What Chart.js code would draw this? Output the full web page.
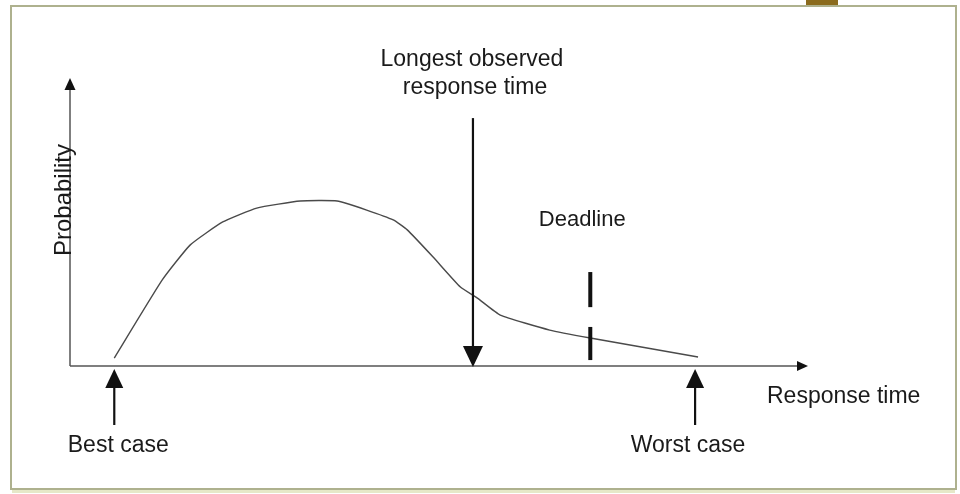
<!DOCTYPE html>
<html>
<head>
<meta charset="utf-8">
<script src="https://cdn.jsdelivr.net/npm/chart.js@4/dist/chart.umd.min.js"></script>
<style>
  html, body { margin: 0; padding: 0; background: #ffffff; }
  #wrap { width: 960px; height: 494px; position: relative; }
</style>
</head>
<body>
<div id="wrap"><canvas id="c" width="960" height="494"></canvas></div>
<script>
// ---- data (arbitrary units) ----
const responseTime = [6.0, 12.5, 16.3, 20.7, 25.3, 31.2, 36.2, 40.2, 43.8, 45.7, 49.2, 52.9, 55.2, 58.3, 65.0, 70.5, 85.1];
const probability  = [2.8, 30.4, 42.8, 50.9, 55.8, 58.3, 58.3, 55.1, 51.6, 48.1, 38.5, 27.9, 24.0, 18.0, 12.7, 9.9, 3.2];

const bestCase = 6.0;
const worstCase = 84.7;
const longestObserved = 54.6;
const longestArrowTop = 87.6;
const deadline = 70.5;
const deadlineSegments = [[33.2, 20.8], [13.8, 2.1]];

const xAxisTitle = "Response time";
const yAxisTitle = "Probability";
const labelBest = "Best case";
const labelWorst = "Worst case";
const labelLongest = ["Longest observed", "response time"];
const labelDeadline = "Deadline";

const FAMILY = '"Liberation Sans", Arial, sans-serif';
const TEXT = '#1a1a1a';

function arrowHead(ctx, tipX, tipY, dir, len, half) {
  ctx.beginPath();
  if (dir === 'up') {
    ctx.moveTo(tipX, tipY); ctx.lineTo(tipX - half, tipY + len); ctx.lineTo(tipX + half, tipY + len);
  } else if (dir === 'down') {
    ctx.moveTo(tipX, tipY); ctx.lineTo(tipX - half, tipY - len); ctx.lineTo(tipX + half, tipY - len);
  } else {
    ctx.moveTo(tipX, tipY); ctx.lineTo(tipX - len, tipY - half); ctx.lineTo(tipX - len, tipY + half);
  }
  ctx.closePath();
  ctx.fill();
}

const diagram = {
  id: 'diagram',
  beforeDatasetsDraw(chart) {
    const ctx = chart.ctx;
    const xs = chart.scales.x, ys = chart.scales.y;
    const ca = chart.chartArea;
    ctx.save();
    // frame
    ctx.fillStyle = '#8b6b1e';
    ctx.fillRect(806, 0, 32, 6);
    ctx.strokeStyle = '#aeb18e';
    ctx.lineWidth = 2;
    ctx.strokeRect(11, 6, 945, 483);
    ctx.strokeStyle = '#e6e8c8';
    ctx.lineWidth = 3;
    ctx.beginPath(); ctx.moveTo(12, 491.5); ctx.lineTo(955, 491.5); ctx.stroke();

    // axes
    const x0 = xs.getPixelForValue(0), y0 = ys.getPixelForValue(0);
    ctx.strokeStyle = '#555';
    ctx.fillStyle = '#111';
    ctx.lineWidth = 1.5;
    ctx.beginPath();
    ctx.moveTo(x0, y0); ctx.lineTo(x0, ca.top - 2);
    ctx.moveTo(x0, y0); ctx.lineTo(ca.right - 8, y0);
    ctx.stroke();
    arrowHead(ctx, x0, ca.top - 5, 'up', 12, 5.5);
    arrowHead(ctx, ca.right, y0, 'right', 11, 5);
    ctx.restore();
  },
  afterDatasetsDraw(chart) {
    const ctx = chart.ctx;
    const xs = chart.scales.x, ys = chart.scales.y;
    const y0 = ys.getPixelForValue(0);
    ctx.save();
    ctx.strokeStyle = '#111';
    ctx.fillStyle = '#111';

    // longest observed response time arrow
    const lx = xs.getPixelForValue(longestObserved);
    ctx.lineWidth = 2.2;
    ctx.beginPath();
    ctx.moveTo(lx, ys.getPixelForValue(longestArrowTop));
    ctx.lineTo(lx, y0 - 15);
    ctx.stroke();
    arrowHead(ctx, lx, y0 + 1, 'down', 21, 10);

    // best / worst case arrows
    [bestCase, worstCase].forEach(v => {
      const px = xs.getPixelForValue(v);
      ctx.lineWidth = 2.2;
      ctx.beginPath();
      ctx.moveTo(px, y0 + 15); ctx.lineTo(px, y0 + 59);
      ctx.stroke();
      arrowHead(ctx, px, y0 + 3, 'up', 19, 9);
    });

    // deadline marker
    const dx = xs.getPixelForValue(deadline);
    ctx.lineWidth = 4;
    ctx.lineCap = 'butt';
    deadlineSegments.forEach(s => {
      ctx.beginPath();
      ctx.moveTo(dx, ys.getPixelForValue(s[0]));
      ctx.lineTo(dx, ys.getPixelForValue(s[1]));
      ctx.stroke();
    });

    // texts
    ctx.fillStyle = TEXT;
    ctx.textAlign = 'center';
    ctx.textBaseline = 'alphabetic';
    ctx.font = '23px ' + FAMILY;
    ctx.fillText(labelLongest[0], lx - 1, 66);
    ctx.fillText(labelLongest[1], lx + 2, 94);
    ctx.font = '22px ' + FAMILY;
    ctx.fillText(labelDeadline, dx - 8, 226);
    ctx.font = '23px ' + FAMILY;
    ctx.fillText(labelBest, xs.getPixelForValue(bestCase) + 4, 452);
    ctx.fillText(labelWorst, xs.getPixelForValue(worstCase) - 7, 452);
    ctx.textAlign = 'left';
    ctx.fillText(xAxisTitle, 767, 403);

    // y axis title (rotated)
    ctx.save();
    ctx.translate(xs.getPixelForValue(0) + 1, 200);
    ctx.rotate(-Math.PI / 2);
    ctx.textAlign = 'center';
    ctx.font = '24px ' + FAMILY;
    ctx.fillText(yAxisTitle, 0, 0);
    ctx.restore();

    ctx.restore();
  }
};

const points = responseTime.map((x, i) => ({ x: x, y: probability[i] }));

new Chart(document.getElementById('c'), {
  type: 'line',
  data: {
    datasets: [{
      data: points,
      borderColor: '#4a4a4a',
      borderWidth: 1.4,
      pointRadius: 0,
      tension: 0.15,
      fill: false
    }]
  },
  options: {
    responsive: false,
    animation: false,
    events: [],
    layout: { padding: { left: 70, right: 152, top: 83, bottom: 128 } },
    plugins: { legend: { display: false }, tooltip: { enabled: false } },
    scales: {
      x: { type: 'linear', min: 0, max: 100, display: false },
      y: { type: 'linear', min: 0, max: 100, display: false }
    }
  },
  plugins: [diagram]
});
</script>
</body>
</html>
